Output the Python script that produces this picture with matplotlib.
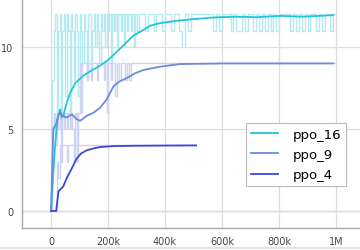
import numpy as np
import matplotlib.pyplot as plt
from matplotlib.lines import Line2D

# smoothed curves (step, value)
ppo16_x = [0, 4e3, 8e3, 14e3, 22e3, 32e3, 37e3, 43e3, 55e3, 67e3, 85e3, 113e3, 140e3, 172e3,
           200e3, 230e3, 260e3, 289e3, 320e3, 347e3, 380e3, 441e3, 500e3, 568e3, 650e3,
           720e3, 804e3, 880e3, 940e3, 990e3]
ppo16_y = [0, 1.2, 2.3, 3.9, 5.5, 6.2, 5.7, 5.8, 6.6, 7.2, 7.8, 8.25, 8.55, 8.86,
           9.2, 9.7, 10.2, 10.7, 11.0, 11.3, 11.45, 11.6, 11.7, 11.8, 11.85,
           11.82, 11.9, 11.85, 11.9, 11.95]

ppo9_x = [0, 4e3, 8e3, 18e3, 26e3, 32e3, 40e3, 55e3, 73e3, 90e3, 102e3, 125e3, 150e3, 172e3,
          195e3, 219e3, 240e3, 265e3, 295e3, 324e3, 382e3, 453e3, 600e3, 800e3, 990e3]
ppo9_y = [0, 2.5, 5.0, 5.3, 5.9, 6.0, 5.8, 5.7, 5.9, 5.6, 5.5, 5.8, 6.0, 6.3,
          6.8, 7.6, 7.9, 8.1, 8.4, 8.6, 8.8, 8.96, 9.0, 9.0, 9.0]

ppo4_x = [0, 18e3, 22e3, 26e3, 35e3, 43e3, 55e3, 73e3, 90e3, 105e3, 125e3, 150e3, 172e3,
          220e3, 300e3, 400e3, 509e3]
ppo4_y = [0, 0, 0.6, 1.2, 1.35, 1.5, 2.0, 2.6, 3.2, 3.5, 3.7, 3.82, 3.9,
          3.96, 3.98, 3.99, 4.0]

# raw episode values: 5k steps up to 300k, then 10k steps
ppo16_raw_a = [0, 8, 11, 12, 6, 11, 12, 5, 11, 12, 7, 12, 11, 6, 12, 11, 8, 12, 11, 7,
               12, 11, 9, 12, 11, 8, 12, 12, 9, 11, 12, 10, 12, 11, 9, 12, 11, 12, 10, 12,
               11, 12, 9, 12, 11, 12, 10, 12, 12, 11, 12, 10, 12, 11, 12, 12, 11, 12, 10, 12]
ppo16_raw_b = [11, 12, 12, 11, 12, 12, 11, 12, 12, 11, 12, 12, 11, 12, 12, 11, 10, 12, 11, 12,
               12, 12, 12, 12, 12, 12, 12, 11, 12, 11, 12, 12, 12, 11, 12, 11, 11, 12, 11, 12,
               12, 11, 12, 11, 12, 11, 12, 11, 12, 11, 12, 12, 12, 12, 11, 12, 11, 12, 11, 12,
               11, 12, 12, 11, 12, 11, 12, 12, 11, 12, 12]

ppo9_raw_a = [0, 5, 6, 4, 6, 5, 6, 4, 6, 5, 6, 5, 6, 5, 6, 5, 4, 6, 3, 6,
              9, 6, 9, 9, 9, 8, 9, 9, 8, 9, 9, 9, 8, 9, 9, 9, 9, 8, 9, 6,
              9, 9, 8, 9, 9, 7, 9, 9, 8, 9, 9, 9, 8, 9, 9, 8, 9, 9, 9, 9]
ppo9_raw_b = [9] * 71

ppo4_raw_a = [0, 0, 0, 0, 3, 2, 4, 3, 4, 4, 4, 3, 4, 4, 4, 4, 3, 4, 4, 4] + [4] * 40
ppo4_raw_b = [4] * 21

raw_x_a = np.arange(0, 300000, 5000)
raw_x_b = np.arange(300000, 1000001, 10000)

names = ["ppo_16", "ppo_9", "ppo_4"]
colors = ["#22c7d6", "#6c8bd8", "#3a46e0"]
raw_colors = ["#b4eaf0", "#cfd3f4", "#cfd3f4"]

fig = plt.figure(figsize=(3.6, 2.51), dpi=100)
ax = fig.add_axes([0.061, 0.0876, 0.939, 0.9124])

ax.plot(np.concatenate([raw_x_a, raw_x_b]), ppo16_raw_a + ppo16_raw_b,
        color=raw_colors[0], lw=1.0, drawstyle="steps-post", zorder=2)
ax.plot(np.concatenate([raw_x_a, raw_x_b]), ppo9_raw_a + ppo9_raw_b,
        color=raw_colors[1], lw=1.0, drawstyle="steps-post", zorder=2)
ax.plot(np.concatenate([raw_x_a, raw_x_b[:21]]), ppo4_raw_a + ppo4_raw_b,
        color=raw_colors[2], lw=1.0, drawstyle="steps-post", zorder=2)

ax.plot(ppo16_x, ppo16_y, color=colors[0], lw=1.3, label=names[0], zorder=4)
ax.plot(ppo9_x, ppo9_y, color=colors[1], lw=1.3, label=names[1], zorder=4)
ax.plot(ppo4_x, ppo4_y, color=colors[2], lw=1.3, label=names[2], zorder=4)

ax.set_xlim(-102000, 1084000)
ax.set_ylim(-1.04, 12.93)
ax.set_xticks([0, 200000, 400000, 600000, 800000, 1000000])
ax.set_xticklabels(["0", "200k", "400k", "600k", "800k", "1M"])
ax.set_yticks([0, 5, 10])
ax.tick_params(length=0, labelsize=7, colors="#444444", pad=6)
ax.grid(True, color="#dedede", lw=0.9, zorder=0)
ax.axhline(0, color="#b0b0b0", lw=0.9, zorder=1)
for side in ["top", "right"]:
    ax.spines[side].set_visible(False)
for side in ["left", "bottom"]:
    ax.spines[side].set_color("#a8a8a8")
    ax.spines[side].set_linewidth(1.0)

leg = ax.legend(loc="lower right", bbox_to_anchor=(0.978, 0.155), fontsize=9.5,
                fancybox=False, framealpha=1, edgecolor="#bbbbbb",
                handlelength=2.1, handletextpad=1.1, borderpad=0.35, labelspacing=0.55)
leg.get_frame().set_linewidth(0.8)

fig.add_artist(Line2D([0, 1], [0.006, 0.006], color="#dddddd", lw=1.2))

fig.savefig("out.png", dpi=100)
